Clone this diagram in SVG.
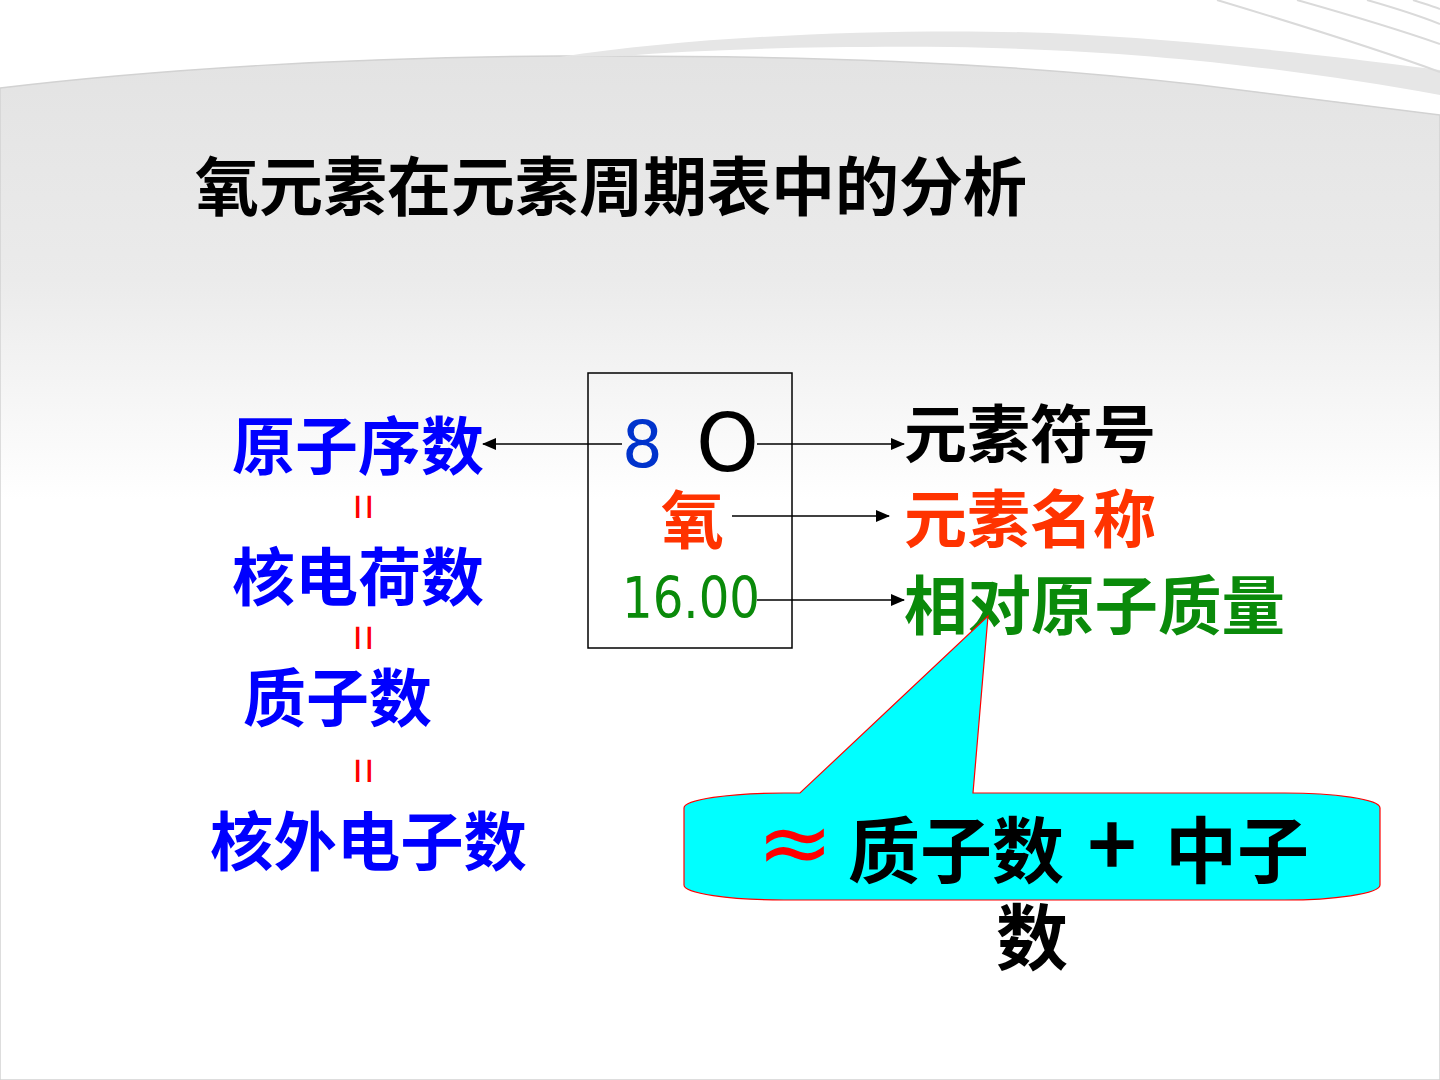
<svg xmlns="http://www.w3.org/2000/svg" width="1440" height="1080" viewBox="0 0 1440 1080">
<style>
.cjk{font-family:"Noto Sans CJK SC","Noto Sans",sans-serif;font-weight:bold}
.lat{font-family:"DejaVu Sans",sans-serif}
.blue{fill:#0000ff}
.red{fill:#ff3300}
.green{fill:#0a8a0a}
.blk{fill:#000}
.conn{stroke:#000;stroke-width:1.3;fill:none}
.eq{font-family:"Liberation Sans",sans-serif;font-size:46px;fill:#ff0000}
</style>
<defs>
<linearGradient id="bg" x1="0" y1="60" x2="0" y2="500" gradientUnits="userSpaceOnUse">
<stop offset="0" stop-color="#e3e3e3"/>
<stop offset="0.5" stop-color="#ebebeb"/>
<stop offset="1" stop-color="#ffffff"/>
</linearGradient>
<marker id="ah" markerWidth="14" markerHeight="12" refX="13" refY="6" orient="auto" markerUnits="userSpaceOnUse">
<path d="M0,0 L14,6 L0,12 Z" fill="#000"/>
</marker>
</defs>
<g id="background">
<rect width="1440" height="1080" fill="#fff"/>
<path d="M0,88 C150,70 350,57 560,56 C800,55 1000,62 1200,85 C1300,97 1380,107 1440,115 L1440,1080 L0,1080 Z" fill="url(#bg)" stroke="#d2d2d2" stroke-width="1.5"/>
<path d="M560,57 C700,35 900,28 1050,33 C1200,40 1350,58 1440,70 L1440,95 C1300,70 1150,50 950,47 C800,46 700,50 620,56 Z" fill="#e6e6e6"/>
<g stroke="#dadada" stroke-width="2" fill="none">
<path d="M1217,0 C1300,25 1380,50 1440,72"/>
<path d="M1297,0 C1350,15 1400,30 1440,44"/>
<path d="M1367,0 C1395,8 1420,16 1440,24"/>
<path d="M1413,0 C1422,3 1432,6 1440,9"/>
</g>
</g>
<g id="title">
<text class="cjk blk" x="195" y="210" font-size="64">氧元素在元素周期表中的分析</text>
</g>
<g id="element-box">
<rect x="588" y="373" width="204" height="275" fill="none" stroke="#000" stroke-width="1.5"/>
<text class="lat" x="622" y="467" font-size="64" fill="#0033cc">8</text>
<text class="lat blk" x="696" y="471" font-size="80">O</text>
<text class="cjk red" x="661" y="543" font-size="63">氧</text>
<text class="lat green" x="622" y="618" font-size="57" textLength="138" lengthAdjust="spacingAndGlyphs">16.00</text>
</g>
<g id="left-labels">
<text class="cjk blue" x="232" y="469" font-size="63">原子序数</text>
<text class="eq" transform="translate(363,507) rotate(90)" text-anchor="middle" y="15">=</text>
<text class="cjk blue" x="232" y="600" font-size="63">核电荷数</text>
<text class="eq" transform="translate(363,638) rotate(90)" text-anchor="middle" y="15">=</text>
<text class="cjk blue" x="243" y="721" font-size="63">质子数</text>
<text class="eq" transform="translate(363,771) rotate(90)" text-anchor="middle" y="15">=</text>
<text class="cjk blue" x="210" y="865" font-size="63.4">核外电子数</text>
</g>
<g id="right-labels">
<text class="cjk blk" x="904" y="457" font-size="63">元素符号</text>
<text class="cjk red" x="904" y="542" font-size="63">元素名称</text>
<text class="cjk green" x="904" y="629" font-size="63.5">相对原子质量</text>
</g>
<g id="connectors">
<line class="conn" x1="622" y1="444" x2="483" y2="444" marker-end="url(#ah)"/>
<line class="conn" x1="757" y1="444" x2="904" y2="444" marker-end="url(#ah)"/>
<line class="conn" x1="732" y1="516" x2="889" y2="516" marker-end="url(#ah)"/>
<line class="conn" x1="757" y1="600" x2="904" y2="600" marker-end="url(#ah)"/>
</g>
<g id="callout">
<path d="M784,793 L800,793 L988,616 L973,793 L1280,793 A96,15 0 0 1 1380,808 L1380,885 A96,15 0 0 1 1280,900 L784,900 A100,15 0 0 1 684,885 L684,808 A100,15 0 0 1 784,793 Z" fill="#00ffff" stroke="#ff0000" stroke-width="1.2"/>
<text class="lat" x="795" y="874" font-size="92" fill="#ff0000" text-anchor="middle">≈</text>
<text class="cjk blk" x="848" y="877" font-size="72">质子数</text>
<text class="cjk blk" x="1112" y="876" font-size="84" font-weight="900" text-anchor="middle">+</text>
<text class="cjk blk" x="1165" y="877" font-size="72">中子</text>
<text class="cjk blk" x="996" y="964" font-size="72">数</text>
</g>
</svg>
